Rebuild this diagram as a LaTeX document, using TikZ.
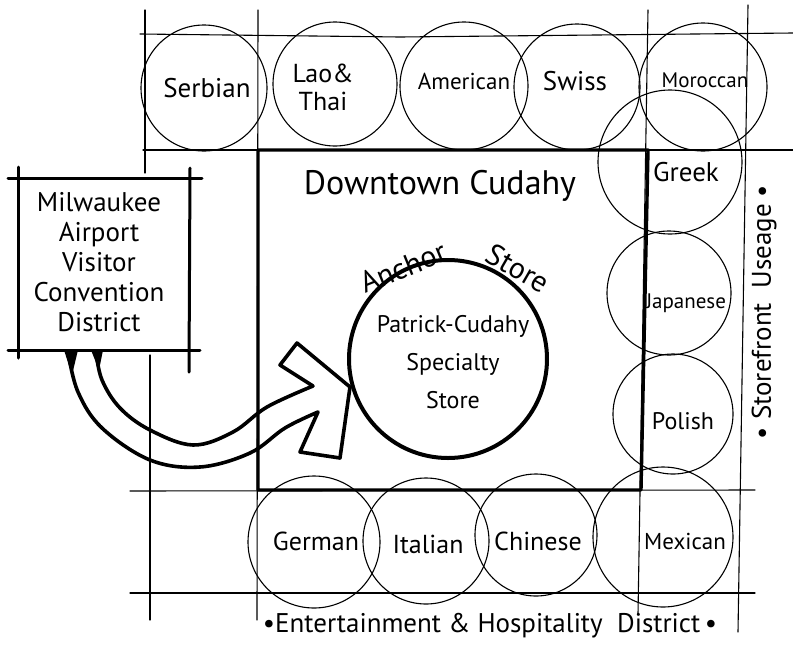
\documentclass[tikz,border=0pt]{standalone}
\usepackage{fontspec}
\setmainfont{PT Sans}
\begin{document}
\begin{tikzpicture}[x=1pt,y=-1pt,
  thinln/.style={line width=1.1pt, line cap=round},
  heavyln/.style={line width=3.4pt, line cap=round, line join=round},
  arrowln/.style={line width=3.6pt, line cap=round, line join=round},
  shop/.style={circle, draw, line width=1.1pt, inner sep=0pt},
  lbl/.style={font=\fontsize{#1}{28}\selectfont, align=center, inner sep=0pt},
  lbl/.default=24,
  boxtxt/.style={font=\fontsize{27}{30}\selectfont, align=center, inner sep=0pt},
  bigtxt/.style={font=\fontsize{34}{38}\selectfont, inner sep=0pt}
]
\useasboundingbox (0,0) rectangle (793,654);
\fill[white] (0,0) rectangle (793,654);

% ---- grid of streets ----
\draw[thinln] (140,34) -- (400,37) -- (793,33);
\draw[thinln] (143,150) -- (793,150);
\draw[thinln] (130,491) -- (755,490);
\draw[thinln] (130,593) -- (755,593);
\draw[thinln] (145,10) -- (145,173);
\draw[thinln] (150,355) -- (150,620);
\draw[thinln] (258,10) -- (257,620);
\draw[thinln] (648,10) -- (638,614);
\draw[thinln] (748,5) -- (738,632);

% ---- downtown block ----
\draw[heavyln] (258,150) -- (648,150) -- (641,490) -- (258,490) -- cycle;
\node[bigtxt] (downtown) at (440,186) {Downtown Cudahy};

% ---- storefront circles ----
\node[shop, minimum size=126] (serbian)  at (204,88) {};
\node[shop, minimum size=124] (laothai)  at (335,84) {};
\node[shop, minimum size=128] (american) at (464,86) {};
\node[shop, minimum size=126] (swiss)    at (577,87) {};
\node[shop, minimum size=128] (moroccan) at (703,87) {};
\node[shop, minimum size=144] (greek)    at (670,162) {};
\node[shop, minimum size=124] (japanese) at (669,293) {};
\node[shop, minimum size=120] (polish)   at (673,414) {};
\node[shop, minimum size=140] (mexican)  at (663,537) {};
\node[shop, minimum size=132] (german)   at (314,542) {};
\node[shop, minimum size=126] (italian)  at (426,541) {};
\node[shop, minimum size=122] (chinese)  at (536,535) {};

\node[lbl=27] (tserbian)  at (207,88)  {Serbian};
\node[lbl=26] (tlaothai)  at (323,87)  {Lao\&\\Thai};
\node[lbl=23] (tamerican) at (464,81)  {American};
\node[lbl=27] (tswiss)    at (575,81)  {Swiss};
\node[lbl=21] (tmoroccan) at (705,80)  {Moroccan};
\node[lbl=27] (tgreek)    at (686,172) {Greek};
\node[lbl=21] (tjapanese) at (686,303) {Japanese};
\node[lbl=24] (tpolish)   at (683,421) {Polish};
\node[lbl=23] (tmexican)  at (685,541) {Mexican};
\node[lbl=26] (tgerman)   at (316,541) {German};
\node[lbl=26] (titalian)  at (428,544) {Italian};
\node[lbl=26] (tchinese)  at (538,541) {Chinese};

% ---- anchor store ----
\node[circle, draw, line width=4pt, minimum size=198, inner sep=0pt] (anchor) at (448,359) {};
\node[lbl=24, font=\fontsize{24}{38}\selectfont] (anchortxt) at (453,362) {Patrick-Cudahy\\Specialty\\Store};
\node[lbl=30, anchor=base, rotate=22] (anchorlbl) at (407,277) {Anchor};
\node[lbl=30, anchor=base, rotate=-30] (storelbl) at (513,277) {Store};

% ---- Milwaukee box ----
\draw[heavyln, line width=3pt] (8,178) -- (202,178);
\draw[heavyln, line width=3pt] (8,350) -- (200,350);
\draw[heavyln, line width=3pt] (18,167) -- (18,358);
\draw[heavyln, line width=3pt] (190,168) -- (189,372);
\node[boxtxt] (mke) at (99,262) {Milwaukee\\Airport\\Visitor\\Convention\\District};

% ---- big curved arrow ----
\draw[arrowln]
  plot[smooth, tension=0.6] coordinates {(68,352) (78,392) (102,428) (150,460) (200,467) (250,453) (285,428) (318,412)}
  -- (300,452) -- (340,458) -- (350,387) -- (297,343) -- (280,365) -- (313,386)
  -- plot[smooth, tension=0.6] coordinates {(313,386) (267,407) (233,432) (193,445) (150,430) (120,408) (102,380) (96,352)};
\fill (64,350) -- (78,350) -- (72,375) -- cycle;
\fill (91,350) -- (103,350) -- (99,370) -- cycle;

% ---- district labels ----
\node[lbl=27, rotate=90] (storefront) at (764,312) {\textbullet\ Storefront\ \ Useage\ \textbullet};
\node[lbl=27] (district) at (490,626) {\textbullet Entertainment \& Hospitality\ \ District\,\textbullet};
\end{tikzpicture}
\end{document}
